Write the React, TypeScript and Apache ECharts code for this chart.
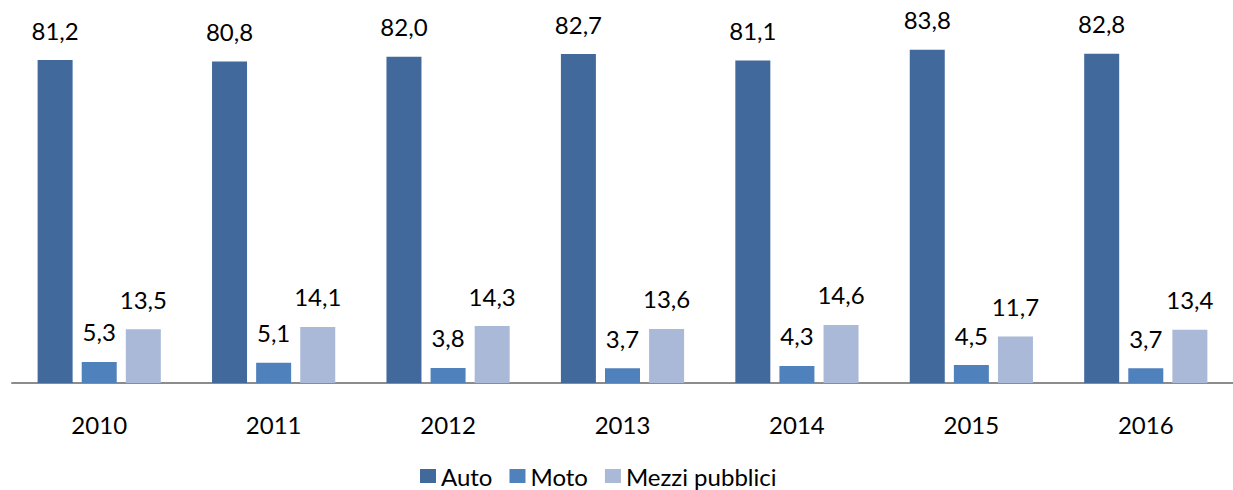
import React, { useEffect, useRef } from "react";
import * as echarts from "echarts";

const categories = ["2010", "2011", "2012", "2013", "2014", "2015", "2016"];
const auto = [81.2, 80.8, 82.0, 82.7, 81.1, 83.8, 82.8];
const moto = [5.3, 5.1, 3.8, 3.7, 4.3, 4.5, 3.7];
const mezzi = [13.5, 14.1, 14.3, 13.6, 14.6, 11.7, 13.4];

const FONT = "Lato, 'Open Sans', sans-serif";

const fmt = (v: number) => v.toFixed(1).replace(".", ",");

export default function App() {
  const ref = useRef<HTMLDivElement>(null);
  useEffect(() => {
    document.body.style.margin = "0";
    document.body.style.overflow = "hidden";
    const chart = echarts.init(ref.current!, undefined, { renderer: "svg" });
    const label = {
      show: true,
      position: "top" as const,
      distance: 18,
      fontFamily: FONT,
      fontSize: 24,
      color: "#000",
      formatter: (p: any) => fmt(p.value),
    };
    const mk = (name: string, data: number[], color: string) => ({
      name,
      type: "bar" as const,
      data,
      barWidth: 35,
      barGap: "26%",
      itemStyle: { color },
      label,
    });
    chart.setOption({
      animation: false,
      textStyle: { fontFamily: FONT },
      grid: { left: 12, right: -12, top: 25, bottom: 107 },
      legend: {
        left: 415,
        top: 459,
        icon: "rect",
        itemWidth: 16,
        itemHeight: 14,
        itemGap: 17,
        textStyle: { fontFamily: FONT, fontSize: 24, color: "#000" },
        data: ["Auto", "Moto", "Mezzi pubblici"],
      },
      xAxis: {
        type: "category",
        data: categories,
        axisLine: { lineStyle: { color: "#8c8c8c", width: 2 } },
        axisTick: { show: false },
        axisLabel: { fontFamily: FONT, fontSize: 24, color: "#000", margin: 29 },
      },
      yAxis: {
        type: "value",
        min: 0,
        max: 90,
        show: false,
        splitLine: { show: false },
      },
      series: [
        mk("Auto", auto, "#41699b"),
        mk("Moto", moto, "#4f81bd"),
        mk("Mezzi pubblici", mezzi, "#aab9d8"),
      ],
    });
    return () => chart.dispose();
  }, []);
  return <div ref={ref} style={{ width: 1233, height: 490 }} />;
}
